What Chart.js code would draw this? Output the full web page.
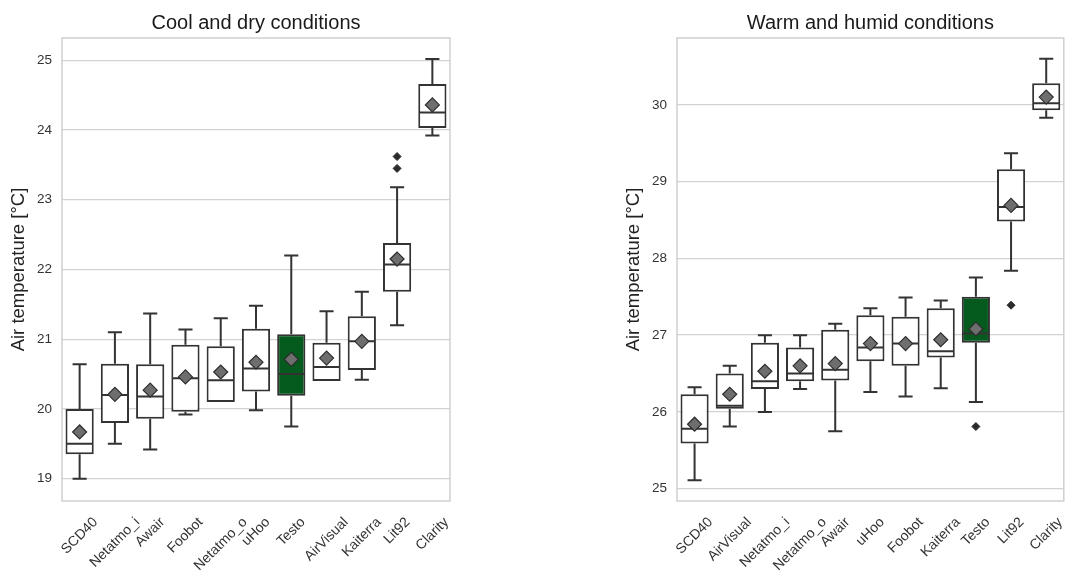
<!DOCTYPE html>
<html>
<head>
<meta charset="utf-8">
<script src="https://cdn.jsdelivr.net/npm/chart.js@4.4.1/dist/chart.umd.min.js"></script>
<style>
  html, body { margin: 0; padding: 0; background: #fff; }
  body { width: 1065px; height: 573px; position: relative; overflow: hidden; }
  canvas { position: absolute; top: 0; }
  #cool { left: 0; }
  #warm { left: 615px; }
</style>
</head>
<body>
<canvas id="cool" width="460" height="573"></canvas>
<canvas id="warm" width="457" height="573"></canvas>
<script>
// Cool and dry conditions
const coolLabels = ['SCD40', 'Netatmo_i', 'Awair', 'Foobot', 'Netatmo_o', 'uHoo', 'Testo', 'AirVisual', 'Kaiterra', 'Lit92', 'Clarity'];
const coolLow    = [19.00, 19.50, 19.42, 19.92, 20.10, 19.98, 19.75, 20.40, 20.42, 21.20, 23.92];
const coolQ1     = [19.35, 19.80, 19.86, 19.96, 20.10, 20.25, 20.19, 20.40, 20.56, 21.68, 24.03];
const coolMedian = [19.50, 20.20, 20.18, 20.44, 20.41, 20.58, 20.50, 20.60, 20.97, 22.07, 24.25];
const coolQ3     = [20.00, 20.65, 20.64, 20.92, 20.90, 21.15, 21.07, 20.95, 21.33, 22.38, 24.66];
const coolHigh   = [20.64, 21.10, 21.37, 21.14, 21.30, 21.48, 22.20, 21.40, 21.68, 23.18, 25.02];
const coolMean   = [19.67, 20.21, 20.27, 20.46, 20.53, 20.67, 20.71, 20.73, 20.97, 22.15, 24.36];
const coolOutliers = [{ x: 'Lit92', y: 23.62 }, { x: 'Lit92', y: 23.45 }];
const coolTicks = [19, 20, 21, 22, 23, 24, 25];

// Warm and humid conditions
const warmLabels = ['SCD40', 'AirVisual', 'Netatmo_i', 'Netatmo_o', 'Awair', 'uHoo', 'Foobot', 'Kaiterra', 'Testo', 'Lit92', 'Clarity'];
const warmLow    = [25.11, 25.81, 26.00, 26.30, 25.75, 26.26, 26.20, 26.31, 26.13, 27.84, 29.83];
const warmQ1     = [25.59, 26.04, 26.30, 26.40, 26.41, 26.66, 26.60, 26.71, 26.90, 28.48, 29.93];
const warmMedian = [25.78, 26.08, 26.40, 26.50, 26.55, 26.84, 26.89, 26.79, 27.02, 28.67, 30.02];
const warmQ3     = [26.23, 26.50, 26.90, 26.84, 27.07, 27.26, 27.24, 27.35, 27.50, 29.16, 30.28];
const warmHigh   = [26.32, 26.60, 27.00, 27.00, 27.15, 27.35, 27.49, 27.45, 27.75, 29.37, 30.60];
const warmMean   = [25.84, 26.23, 26.53, 26.60, 26.63, 26.89, 26.89, 26.94, 27.08, 28.69, 30.10];
const warmOutliers = [{ x: 'Testo', y: 25.81 }, { x: 'Lit92', y: 27.39 }];
const warmTicks = [25, 26, 27, 28, 29, 30];

const FONT = '"Liberation Sans", Arial, sans-serif';
const EDGE = '#333333';
const HIGHLIGHT = 'Testo';

function makeBoxChart(id, title, labels, low, q1, median, q3, high, mean, outliers, ticks, yMin, yMax, padRight) {
  const BOX_INDEX = 2;

  // whiskers, caps and medians drawn right after the boxes
  const whiskerPlugin = {
    id: 'whiskers',
    afterDatasetDraw(chart, args) {
      if (args.index !== BOX_INDEX) return;
      const ctx = chart.ctx;
      const y = chart.scales.y;
      const bars = chart.getDatasetMeta(BOX_INDEX).data;
      ctx.save();
      ctx.strokeStyle = EDGE;
      ctx.lineWidth = 2;
      bars.forEach((bar, i) => {
        const x = bar.x;
        const w = bar.width;
        ctx.beginPath();
        if (high[i] > q3[i]) {
          ctx.moveTo(x, y.getPixelForValue(q3[i]));
          ctx.lineTo(x, y.getPixelForValue(high[i]));
          ctx.moveTo(x - w / 4, y.getPixelForValue(high[i]));
          ctx.lineTo(x + w / 4, y.getPixelForValue(high[i]));
        }
        if (low[i] < q1[i]) {
          ctx.moveTo(x, y.getPixelForValue(q1[i]));
          ctx.lineTo(x, y.getPixelForValue(low[i]));
          ctx.moveTo(x - w / 4, y.getPixelForValue(low[i]));
          ctx.lineTo(x + w / 4, y.getPixelForValue(low[i]));
        }
        const ym = y.getPixelForValue(median[i]);
        ctx.moveTo(x - w / 2 + 1, ym);
        ctx.lineTo(x + w / 2 - 1, ym);
        ctx.stroke();
      });
      ctx.restore();
    }
  };

  // light frame round the plot area
  const framePlugin = {
    id: 'frame',
    beforeDatasetsDraw(chart) {
      const { ctx, chartArea: a } = chart;
      ctx.save();
      ctx.strokeStyle = '#d0d0d0';
      ctx.lineWidth = 1.5;
      ctx.strokeRect(a.left, a.top, a.right - a.left, a.bottom - a.top);
      ctx.restore();
    }
  };

  // x labels rotated 45 deg, centred under their tick like matplotlib
  const xLabelPlugin = {
    id: 'xlabels',
    afterDraw(chart) {
      const { ctx, chartArea } = chart;
      const xs = chart.scales.x;
      const size = 14;
      ctx.save();
      ctx.font = size + 'px ' + FONT;
      ctx.fillStyle = '#333';
      ctx.textAlign = 'center';
      ctx.textBaseline = 'middle';
      labels.forEach((lab, i) => {
        const w = ctx.measureText(lab).width;
        const half = (w + size) * Math.SQRT1_2 / 2;
        ctx.save();
        ctx.translate(xs.getPixelForValue(i), chartArea.bottom + 14 + half);
        ctx.rotate(-Math.PI / 4);
        ctx.fillText(lab, 0, 0);
        ctx.restore();
      });
      ctx.restore();
    }
  };

  return new Chart(document.getElementById(id), {
    type: 'bar',
    data: {
      labels: labels,
      datasets: [
        {
          type: 'line',
          label: 'mean',
          data: mean,
          showLine: false,
          pointStyle: 'rectRot',
          pointRadius: 7,
          pointBackgroundColor: '#6e6e6e',
          pointBorderColor: '#2e2e2e',
          pointBorderWidth: 1.2
        },
        {
          type: 'line',
          label: 'outliers',
          data: outliers,
          showLine: false,
          pointStyle: 'rectRot',
          pointRadius: 4,
          pointBackgroundColor: '#2b2b2b',
          pointBorderColor: '#2b2b2b',
          pointBorderWidth: 1
        },
        {
          label: 'box',
          data: labels.map((_, i) => [q1[i], q3[i]]),
          backgroundColor: labels.map(l => l === HIGHLIGHT ? '#055a1d' : '#ffffff'),
          borderColor: EDGE,
          borderWidth: 2,
          borderSkipped: false,
          barPercentage: 0.8,
          categoryPercentage: 1
        }
      ]
    },
    options: {
      responsive: false,
      animation: false,
      layout: { padding: { left: 0, right: padRight, top: 0, bottom: 0 } },
      plugins: {
        legend: { display: false },
        tooltip: { enabled: false },
        title: {
          display: true,
          text: title,
          fullSize: false,
          color: '#1a1a1a',
          font: { family: FONT, size: 20, weight: 'normal' },
          padding: { top: 11, bottom: 3 }
        }
      },
      scales: {
        x: {
          grid: { display: false, drawTicks: false },
          border: { display: false },
          ticks: { display: false },
          afterFit(scale) { scale.height = 72; }
        },
        y: {
          min: yMin,
          max: yMax,
          afterBuildTicks(scale) { scale.ticks = ticks.map(v => ({ value: v })); },
          grid: { color: '#d2d2d2', lineWidth: 1.3, drawTicks: false },
          border: { display: false },
          ticks: {
            padding: 10,
            color: '#333',
            font: { family: FONT, size: 13.5 }
          },
          title: {
            display: true,
            text: 'Air temperature [°C]',
            color: '#222',
            font: { family: FONT, size: 18.5 },
            padding: { top: 8, bottom: 0 }
          },
          afterFit(scale) { scale.width = 62; }
        }
      }
    },
    plugins: [framePlugin, whiskerPlugin, xLabelPlugin]
  });
}

makeBoxChart('cool', 'Cool and dry conditions', coolLabels, coolLow, coolQ1, coolMedian, coolQ3, coolHigh, coolMean, coolOutliers, coolTicks, 18.68, 25.32, 10);
makeBoxChart('warm', 'Warm and humid conditions', warmLabels, warmLow, warmQ1, warmMedian, warmQ3, warmHigh, warmMean, warmOutliers, warmTicks, 24.84, 30.87, 1);
</script>
</body>
</html>
